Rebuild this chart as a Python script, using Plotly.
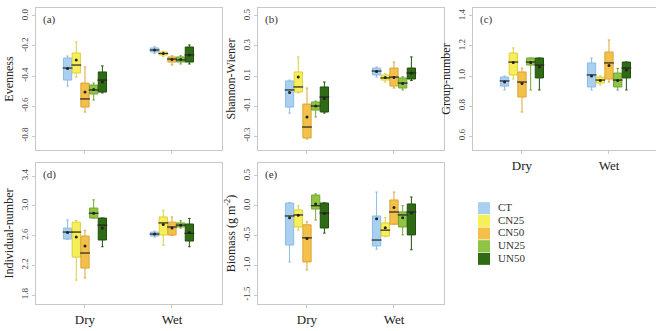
import plotly.graph_objects as go

W, H = 656, 331
seasons = ["Dry", "Wet"]
treatments = ["CT", "CN25", "CN50", "UN25", "UN50"]
fills = ["#a9d0f0", "#f7ef5a", "#f3c04a", "#8fc444", "#2f6a14"]
edges = ["#8dbbe2", "#dccf3e", "#dba638", "#74a634", "#22500c"]

# ---- (a) Evenness : [Dry five treatments], [Wet five treatments]
even_low = [[-0.467, -0.407, -0.64, -0.56, -0.513], [-0.25, -0.27, -0.327, -0.32, -0.32]]
even_q1 = [[-0.427, -0.38, -0.607, -0.52, -0.507], [-0.24, -0.26, -0.307, -0.307, -0.307]]
even_med = [[-0.347, -0.327, -0.553, -0.493, -0.427], [-0.227, -0.25, -0.287, -0.293, -0.26]]
even_q3 = [[-0.28, -0.247, -0.447, -0.46, -0.373], [-0.213, -0.24, -0.273, -0.273, -0.207]]
even_up = [[-0.267, -0.173, -0.34, -0.447, -0.333], [-0.205, -0.235, -0.265, -0.265, -0.193]]
even_mean = [[-0.35, -0.293, -0.507, -0.49, -0.44], [-0.227, -0.25, -0.29, -0.29, -0.26]]

# ---- (b) Shannon-Wiener
shan_low = [[-0.147, -0.013, -0.32, -0.173, -0.147], [0.093, 0.06, 0.02, 0.007, 0.07]]
shan_q1 = [[-0.107, -0.007, -0.313, -0.127, -0.14], [0.107, 0.073, 0.033, 0.02, 0.08]]
shan_med = [[0.007, 0.027, -0.24, -0.1, -0.04], [0.133, 0.087, 0.093, 0.053, 0.12]]
shan_q3 = [[0.067, 0.127, -0.087, -0.073, 0.027], [0.153, 0.107, 0.153, 0.087, 0.153]]
shan_up = [[0.073, 0.227, 0.02, -0.067, 0.06], [0.16, 0.115, 0.193, 0.095, 0.227]]
shan_mean = [[-0.01, 0.093, -0.173, -0.1, -0.05], [0.13, 0.09, 0.09, 0.05, 0.12]]

# ---- (c) Group-number
grp_low = [[0.907, 0.98, 0.76, 0.907, 0.907], [0.907, 0.94, 0.96, 0.907, 0.907]]
grp_q1 = [[0.933, 1.007, 0.86, 1.073, 0.987], [0.927, 0.953, 0.98, 0.927, 0.987]]
grp_med = [[0.967, 1.093, 0.96, 1.093, 1.073], [1.007, 0.973, 1.087, 0.973, 1.053]]
grp_q3 = [[0.993, 1.153, 1.027, 1.12, 1.12], [1.087, 0.993, 1.16, 1.02, 1.093]]
grp_up = [[1.0, 1.187, 1.053, 1.12, 1.12], [1.12, 1.0, 1.24, 1.05, 1.093]]
grp_mean = [[0.96, 1.09, 0.95, 1.09, 1.06], [1.0, 0.97, 1.07, 0.97, 1.04]]

# ---- (d) Individual-number
ind_low = [[2.55, 2.0, 2.03, 2.835, 2.45], [2.58, 2.47, 2.6, 2.7, 2.45]]
ind_q1 = [[2.553, 2.31, 2.163, 2.835, 2.54], [2.594, 2.607, 2.607, 2.715, 2.526]]
ind_med = [[2.647, 2.647, 2.365, 2.90, 2.74], [2.62, 2.77, 2.715, 2.74, 2.63]]
ind_q3 = [[2.70, 2.78, 2.594, 2.97, 2.835], [2.647, 2.85, 2.78, 2.77, 2.755]]
ind_up = [[2.81, 2.8, 2.67, 3.08, 2.835], [2.66, 2.94, 2.85, 2.8, 2.83]]
ind_mean = [[2.64, 2.58, 2.46, 2.9, 2.7], [2.62, 2.75, 2.7, 2.74, 2.64]]

# ---- (e) Biomass
bio_low = [[-0.945, -0.41, -1.08, -0.24, -0.46], [-0.73, -0.52, -0.31, -0.49, -0.74]]
bio_q1 = [[-0.66, -0.357, -0.945, -0.055, -0.374], [-0.676, -0.51, -0.31, -0.357, -0.49]]
bio_med = [[-0.172, -0.155, -0.54, 0.0, -0.122], [-0.576, -0.41, -0.105, -0.155, -0.105]]
bio_q3 = [[0.046, -0.07, -0.32, 0.18, 0.046], [-0.172, -0.29, 0.097, -0.105, 0.03]]
bio_up = [[0.05, 0.0, -0.27, 0.2, 0.05], [0.23, -0.2, 0.23, 0.0, 0.147]]
bio_mean = [[-0.2, -0.16, -0.55, 0.03, -0.13], [-0.22, -0.37, -0.03, -0.2, -0.12]]

# tick labels
even_ticks = [0.0, -0.2, -0.4, -0.6, -0.8]
even_ticktext = ["0.0", "-0.2", "-0.4", "-0.6", "-0.8"]
shan_ticks = [0.5, 0.3, 0.1, -0.1, -0.3]
shan_ticktext = ["0.5", "0.3", "0.1", "-0.1", "-0.3"]
grp_ticks = [1.4, 1.2, 1.0, 0.8, 0.6]
grp_ticktext = ["1.4", "1.2", "1.0", "0.8", "0.6"]
ind_ticks = [3.4, 3.0, 2.6, 2.2, 1.8]
ind_ticktext = ["3.4", "3.0", "2.6", "2.2", "1.8"]
bio_ticks = [0.5, 0.0, -0.5, -1.0, -1.5]
bio_ticktext = ["0.5", "0.0", "-0.5", "-1.0", "-1.5"]

panels = [
    dict(tag="(a)", title="Evenness", low=even_low, q1=even_q1, med=even_med, q3=even_q3, up=even_up,
         mean=even_mean, tv=even_ticks, tt=even_ticktext, yr=[-0.893, 0.053],
         px=(36, 222), py=(8, 150), xlabels=False),
    dict(tag="(b)", title="Shannon-Wiener", low=shan_low, q1=shan_q1, med=shan_med, q3=shan_q3, up=shan_up,
         mean=shan_mean, tv=shan_ticks, tt=shan_ticktext, yr=[-0.393, 0.553],
         px=(258, 444), py=(8, 150), xlabels=False),
    dict(tag="(c)", title="Group-number", low=grp_low, q1=grp_q1, med=grp_med, q3=grp_q3, up=grp_up,
         mean=grp_mean, tv=grp_ticks, tt=grp_ticktext, yr=[0.507, 1.453],
         px=(473, 656), py=(8, 150), xlabels=True),
    dict(tag="(d)", title="Individual-number", low=ind_low, q1=ind_q1, med=ind_med, q3=ind_q3, up=ind_up,
         mean=ind_mean, tv=ind_ticks, tt=ind_ticktext, yr=[1.68, 3.575],
         px=(36, 222), py=(163, 304), xlabels=True),
    dict(tag="(e)", title="Biomass (g m<sup>-2</sup>)", low=bio_low, q1=bio_q1, med=bio_med, q3=bio_q3, up=bio_up,
         mean=bio_mean, tv=bio_ticks, tt=bio_ticktext, yr=[-1.651, 0.718],
         px=(258, 444), py=(163, 304), xlabels=True),
]

STEP = 0.1      # spacing between treatments inside a season group (x units)
BOXW = 0.095
UNIT_PX = 87.0  # pixels per season unit
LEFT_PAD = 0.563
FONT = "Liberation Serif"

fig = go.Figure()
layout = dict(
    width=W, height=H, margin=dict(l=0, r=0, t=0, b=0),
    paper_bgcolor="white", plot_bgcolor="white", showlegend=False,
    font=dict(family=FONT, color="#333333"),
)
annotations = []
for p_i, p in enumerate(panels):
    n = p_i + 1
    xa = "x" if n == 1 else f"x{n}"
    ya = "y" if n == 1 else f"y{n}"
    for t_i, tname in enumerate(treatments):
        xs = [s_i + (t_i - 2) * STEP for s_i in range(len(seasons))]
        col = lambda arr: [arr[s][t_i] for s in range(len(seasons))]
        fig.add_trace(go.Box(
            x=xs, q1=col(p["q1"]), median=col(p["med"]), q3=col(p["q3"]),
            lowerfence=col(p["low"]), upperfence=col(p["up"]),
            width=BOXW, fillcolor=fills[t_i], line=dict(color=edges[t_i], width=1),
            whiskerwidth=0.3, boxpoints=False, hoverinfo="skip",
            xaxis=xa, yaxis=ya, name=tname,
        ))
        fig.add_trace(go.Scatter(
            x=xs, y=col(p["med"]), mode="markers", hoverinfo="skip",
            marker=dict(symbol="line-ew", size=7, line=dict(color="#2a2a2a", width=1.2)),
            xaxis=xa, yaxis=ya,
        ))
        fig.add_trace(go.Scatter(
            x=xs, y=col(p["mean"]), mode="markers", hoverinfo="skip",
            marker=dict(symbol="circle", size=3, color="#222222"),
            xaxis=xa, yaxis=ya,
        ))
    x0, x1 = p["px"]
    y0, y1 = p["py"]
    x_hi = -LEFT_PAD + (x1 - x0) / UNIT_PX
    axis_common = dict(showline=True, mirror=True, linecolor="#c8c8c8", linewidth=1,
                       showgrid=False, zeroline=False, ticks="outside", ticklen=3,
                       tickcolor="#c8c8c8")
    layout["xaxis" if n == 1 else f"xaxis{n}"] = dict(
        domain=[x0 / W, x1 / W], anchor=ya, range=[-LEFT_PAD, x_hi],
        tickvals=list(range(len(seasons))), ticktext=seasons, showticklabels=p["xlabels"],
        tickfont=dict(family=FONT, size=13, color="#222222"), **axis_common)
    layout["yaxis" if n == 1 else f"yaxis{n}"] = dict(
        domain=[1 - y1 / H, 1 - y0 / H], anchor=xa, range=p["yr"],
        tickvals=p["tv"], ticktext=p["tt"], tickangle=-90,
        tickfont=dict(family=FONT, size=9, color="#444444"),
        title=dict(text=p["title"], font=dict(family=FONT, size=12, color="#222222"), standoff=4),
        **axis_common)
    annotations.append(dict(text=p["tag"], xref="paper", yref="paper",
                            x=(x0 + 5) / W, y=1 - (y0 + 3) / H, xanchor="left", yanchor="top",
                            showarrow=False, font=dict(family=FONT, size=11, color="#333333")))

# legend key drawn on its own hidden axes: one square per treatment category
fig.add_trace(go.Scatter(
    x=[0] * len(treatments), y=treatments, mode="markers+text",
    text=["  " + t for t in treatments], textposition="middle right",
    textfont=dict(family=FONT, size=11, color="#333333"),
    marker=dict(symbol="square", size=12, color=fills, line=dict(width=0)),
    hoverinfo="skip", xaxis="x6", yaxis="y6", cliponaxis=False,
))
layout["xaxis6"] = dict(domain=[476 / W, 564 / W], range=[-0.5, 5.0], anchor="y6",
                        visible=False, fixedrange=True)
layout["yaxis6"] = dict(domain=[1 - 270 / H, 1 - 197 / H], anchor="x6", type="category",
                        categoryorder="array", categoryarray=treatments,
                        autorange="reversed", visible=False, fixedrange=True)

layout["annotations"] = annotations
fig.update_layout(**layout)
fig.write_html("out.html")
